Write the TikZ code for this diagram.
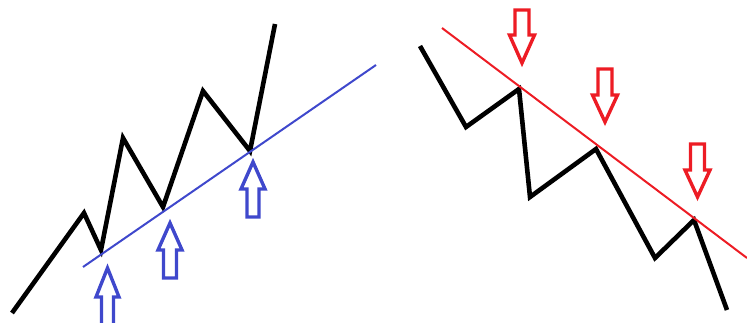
\documentclass[tikz,border=0pt]{standalone}
\definecolor{indigoP}{RGB}{63,72,204}
\definecolor{redP}{RGB}{237,28,36}
\newcommand\hollowarrow[7]{%
  \draw[#7] (#1-#5,#2) -- (#1-#5,#3) -- (#1-#6,#3) -- (#1,#4) -- (#1+#6,#3) -- (#1+#5,#3) -- (#1+#5,#2) -- cycle;}
\begin{document}
\begin{tikzpicture}[x=1pt,y=-1pt,
  zig/.style={line width=4.6pt,black},
  trend/.style={line width=2pt},
  hollow/.style={line width=3.4pt,fill=white}]
\useasboundingbox (0,0) rectangle (747,323);
\clip (0,0) rectangle (747,323);
% left: uptrend
\coordinate (l1) at (12,313);
\coordinate (l2) at (84,213);
\coordinate (l3) at (101,250);
\coordinate (l4) at (123,138);
\coordinate (l5) at (163,207);
\coordinate (l6) at (203,91);
\coordinate (l7) at (250,151);
\coordinate (l8) at (275,24);
\draw[zig] (l1) -- (l2) -- (l3) -- (l4) -- (l5) -- (l6) -- (l7) -- (l8);
\coordinate (bs) at (83,267);
\coordinate (be) at (376,65);
\draw[trend,indigoP] (bs) -- (be);
\hollowarrow{107.5}{335}{297}{268}{6}{11.5}{hollow,draw=indigoP}
\hollowarrow{170}{278}{250}{223}{6.5}{12}{hollow,draw=indigoP}
\hollowarrow{253}{217}{189}{162}{6}{12}{hollow,draw=indigoP}
% right: downtrend
\coordinate (r1) at (420,46);
\coordinate (r2) at (466,127);
\coordinate (r3) at (519,89);
\coordinate (r4) at (530,197);
\coordinate (r5) at (596,149);
\coordinate (r6) at (655,258);
\coordinate (r7) at (694,220);
\coordinate (r8) at (727,310);
\draw[zig] (r1) -- (r2) -- (r3) -- (r4) -- (r5) -- (r6) -- (r7) -- (r8);
\coordinate (rs) at (442,28);
\coordinate (re) at (747,258);
\draw[trend,redP] (rs) -- (re);
\hollowarrow{522}{10}{35}{63}{7}{12.5}{hollow,draw=redP}
\hollowarrow{605}{69}{95}{122}{7}{12.5}{hollow,draw=redP}
\hollowarrow{697.5}{144}{170}{197}{7}{12.5}{hollow,draw=redP}
\end{tikzpicture}
\end{document}
